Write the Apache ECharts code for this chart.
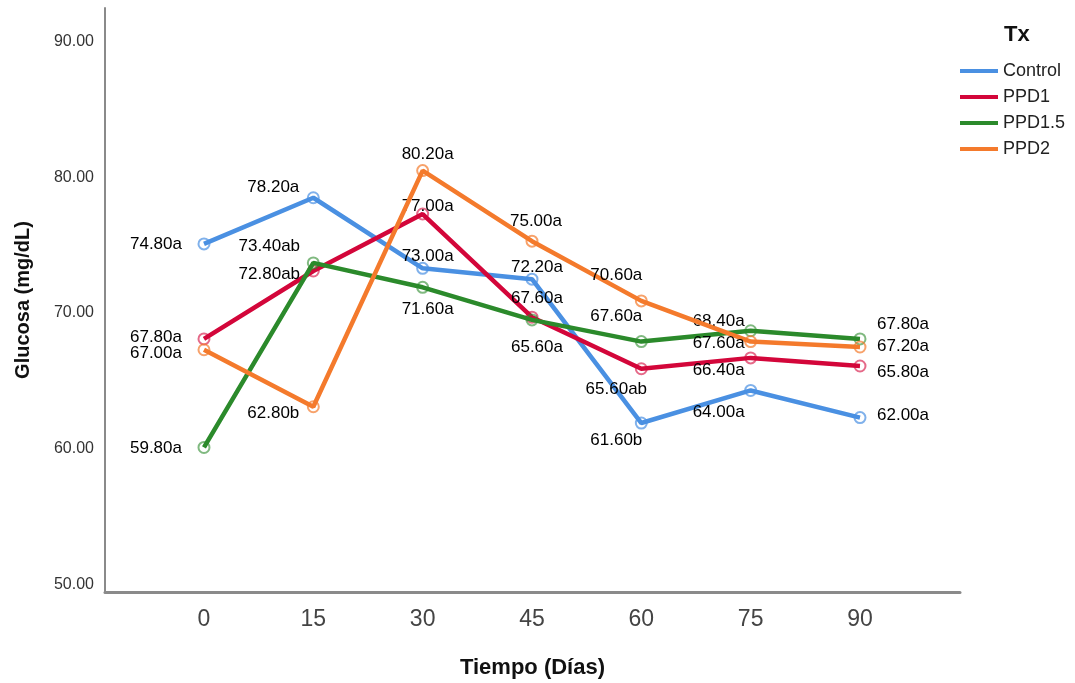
<!DOCTYPE html>
<html>
<head>
<meta charset="utf-8">
<script src="https://cdn.jsdelivr.net/npm/echarts@6/dist/echarts.min.js"></script>
<style>
html,body{margin:0;padding:0;background:#fff;}
#chart{width:1075px;height:683px;}
</style>
</head>
<body>
<div id="chart"></div>
<script>
// ---- data ----
const days = [0, 15, 30, 45, 60, 75, 90];
const seriesNames = ['Control', 'PPD1', 'PPD1.5', 'PPD2'];
const controlValues = [74.8, 78.2, 73.0, 72.2, 61.6, 64.0, 62.0];
const ppd1Values    = [67.8, 72.8, 77.0, 69.4, 65.6, 66.4, 65.8];
const ppd15Values   = [59.8, 73.4, 71.6, 69.2, 67.6, 68.4, 67.8];
const ppd2Values    = [67.0, 62.8, 80.2, 75.0, 70.6, 67.6, 67.2];
const controlLabels = ['74.80a', '78.20a', '73.00a', '72.20a', '61.60b', '64.00a', '62.00a'];
const ppd1Labels    = ['67.80a', '72.80ab', '77.00a', '67.60a', '65.60ab', '66.40a', '65.80a'];
const ppd15Labels   = ['59.80a', '73.40ab', '71.60a', '65.60a', '67.60a', '68.40a', '67.80a'];
const ppd2Labels    = ['67.00a', '62.80b', '80.20a', '75.00a', '70.60a', '67.60a', '67.20a'];
const yTicks = [50, 60, 70, 80, 90];

// ---- styles (label placement, colours) ----
const colors = ['#4a90e2', '#d3063a', '#2b8a2b', '#f47a2c'];
const symbolColors = ['rgba(74,144,226,0.7)', 'rgba(211,6,58,0.6)', 'rgba(43,138,43,0.6)', 'rgba(244,122,44,0.7)'];
const controlOffsets = [[-48,0],[-40,-10],[5,-12],[5,-12],[-25,17],[-32,22],[43,-2]];
const ppd1Offsets    = [[-48,-2],[-44,3],[5,-8],[5,-19],[-25,21],[-32,12],[43,6]];
const ppd15Offsets   = [[-48,1],[-44,-17],[5,22],[5,27],[-25,-25],[-32,-9],[43,-15]];
const ppd2Offsets    = [[-48,4],[-40,7],[5,-16],[4,-20],[-25,-26],[-32,2],[43,-1]];

const allValues = [controlValues, ppd1Values, ppd15Values, ppd2Values];
const allLabels = [controlLabels, ppd1Labels, ppd15Labels, ppd2Labels];
const allOffsets = [controlOffsets, ppd1Offsets, ppd15Offsets, ppd2Offsets];

const FONT = 'Liberation Sans, Arial, sans-serif';

const series = seriesNames.map((name, si) => ({
  name: name,
  type: 'line',
  symbol: 'circle',
  symbolSize: 11,
  lineStyle: { width: 4.5, color: colors[si] },
  itemStyle: { color: 'rgba(255,255,255,0)', borderColor: symbolColors[si], borderWidth: 2 },
  z: 2 + si,
  data: days.map((d, i) => ({
    value: [d, allValues[si][i]],
    label: {
      show: true,
      position: 'inside',
      offset: allOffsets[si][i],
      formatter: allLabels[si][i],
      fontFamily: FONT,
      fontSize: 17,
      color: '#000'
    }
  }))
}));

const chart = echarts.init(document.getElementById('chart'));
chart.setOption({
  backgroundColor: '#fff',
  animation: false,
  grid: { left: 105, right: 115, top: 8, bottom: 91, containLabel: false, outerBoundsMode: 'none' },
  legend: {
    orient: 'vertical',
    left: 960,
    top: 62,
    padding: 0,
    itemWidth: 38,
    itemHeight: 4,
    itemGap: 8,
    icon: 'rect',
    data: seriesNames.map((n, i) => ({ name: n, itemStyle: { color: colors[i], borderWidth: 0 } })),
    textStyle: { fontFamily: FONT, fontSize: 18, color: '#222' }
  },
  title: {
    text: 'Tx',
    left: 999,
    top: 19,
    textStyle: { fontFamily: FONT, fontSize: 22, fontWeight: 'bold', color: '#111' }
  },
  xAxis: {
    type: 'value',
    min: -13.58,
    max: 103.72,
    name: 'Tiempo (Días)',
    nameLocation: 'middle',
    nameGap: 65,
    nameTextStyle: { fontFamily: FONT, fontSize: 22, fontWeight: 'bold', color: '#111' },
    axisLine: { show: true, onZero: false, lineStyle: { color: '#8a8a8a', width: 3 } },
    axisTick: { show: false },
    splitLine: { show: false },
    axisLabel: {
      customValues: days,
      margin: 16,
      fontFamily: FONT,
      fontSize: 23,
      color: '#444'
    }
  },
  yAxis: {
    type: 'value',
    min: 49.15,
    max: 92.18,
    name: 'Glucosa (mg/dL)',
    nameLocation: 'middle',
    nameGap: 72,
    nameRotate: 90,
    nameTextStyle: { fontFamily: FONT, fontSize: 20, fontWeight: 'bold', color: '#111' },
    axisLine: { show: true, onZero: false, lineStyle: { color: '#8a8a8a', width: 2 } },
    axisTick: { show: false },
    splitLine: { show: false },
    axisLabel: {
      customValues: yTicks,
      formatter: v => v.toFixed(2),
      margin: 11,
      verticalAlign: 'top',
      lineHeight: 8,
      fontFamily: FONT,
      fontSize: 16,
      color: '#333'
    }
  },
  series: series
});
</script>
</body>
</html>
